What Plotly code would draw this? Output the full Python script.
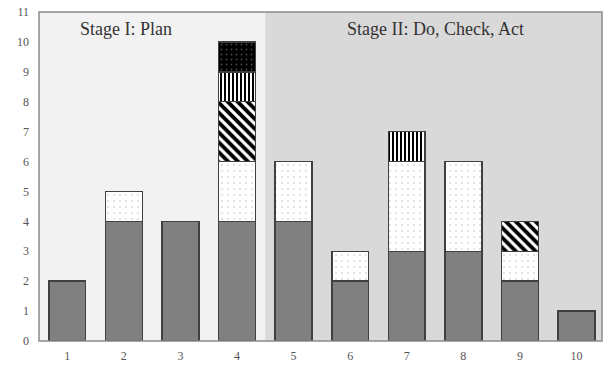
import plotly.graph_objects as go

categories = [1, 2, 3, 4, 5, 6, 7, 8, 9, 10]
solid_gray = [2, 4, 4, 4, 4, 2, 3, 3, 2, 1]
light_dots = [0, 1, 0, 2, 2, 1, 3, 3, 1, 0]
diagonal = [0, 0, 0, 2, 0, 0, 0, 0, 1, 0]
vertical = [0, 0, 0, 1, 0, 0, 1, 0, 0, 0]
dark_dots = [0, 0, 0, 1, 0, 0, 0, 0, 0, 0]
y_ticks = list(range(0, 12))
stage_labels = ["Stage I: Plan", "Stage II: Do, Check, Act"]

FONT = "Liberation Serif"
line = dict(color="#404040", width=1.5)

def vals(v):
    return [x if x else None for x in v]

fig = go.Figure()
fig.add_trace(go.Bar(x=categories, y=vals(solid_gray),
                     marker=dict(color="#808080", line=line)))
fig.add_trace(go.Bar(x=categories, y=vals(light_dots),
                     marker=dict(color="white", line=line,
                                 pattern=dict(shape=".", fgcolor="#b8b8b8", bgcolor="white",
                                              size=6, solidity=0.1))))
fig.add_trace(go.Bar(x=categories, y=vals(diagonal),
                     marker=dict(color="white", line=line,
                                 pattern=dict(shape="\\", fgcolor="black", bgcolor="white",
                                              fgopacity=1, size=7, solidity=0.55))))
fig.add_trace(go.Bar(x=categories, y=vals(vertical),
                     marker=dict(color="white", line=line,
                                 pattern=dict(shape="|", fgcolor="black", bgcolor="white",
                                              fgopacity=1, size=4, solidity=0.5))))
fig.add_trace(go.Bar(x=categories, y=vals(dark_dots),
                     marker=dict(color="black", line=line,
                                 pattern=dict(shape=".", fgcolor="#909090", bgcolor="black",
                                              size=5, solidity=0.1))))

fig.update_layout(
    barmode="stack",
    bargap=0.35,
    showlegend=False,
    width=608, height=369,
    margin=dict(l=39, r=6, t=12, b=28),
    paper_bgcolor="white",
    plot_bgcolor="#d9d9d9",
    font=dict(family=FONT, size=12, color="#555555"),
    shapes=[
        dict(type="rect", xref="x", yref="y", x0=0.5, x1=4.5, y0=0, y1=11,
             fillcolor="#f2f2f2", line=dict(width=0), layer="below"),
        dict(type="rect", xref="paper", yref="paper", x0=0, x1=1, y0=0, y1=1,
             line=dict(color="#8a8a8a", width=1.5), layer="above"),
    ],
    annotations=[
        dict(x=2.04, y=10.43, xref="x", yref="y", text=stage_labels[0], showarrow=False,
             font=dict(family=FONT, size=18, color="#333333")),
        dict(x=7.5, y=10.43, xref="x", yref="y", text=stage_labels[1], showarrow=False,
             font=dict(family=FONT, size=18, color="#333333")),
    ],
)
fig.update_xaxes(range=[0.5, 10.45], tickmode="array", tickvals=categories,
                 ticktext=[str(c) for c in categories], showgrid=False, zeroline=False,
                 ticks="", ticklen=0, ticklabelstandoff=6)
fig.update_yaxes(range=[0, 11], tickmode="array", tickvals=y_ticks,
                 showgrid=False, zeroline=False, ticks="", ticklabelstandoff=9)

fig.write_html("out.html", config={"displayModeBar": False},
               post_script="document.body.style.margin='0';document.body.style.overflow='hidden';")
